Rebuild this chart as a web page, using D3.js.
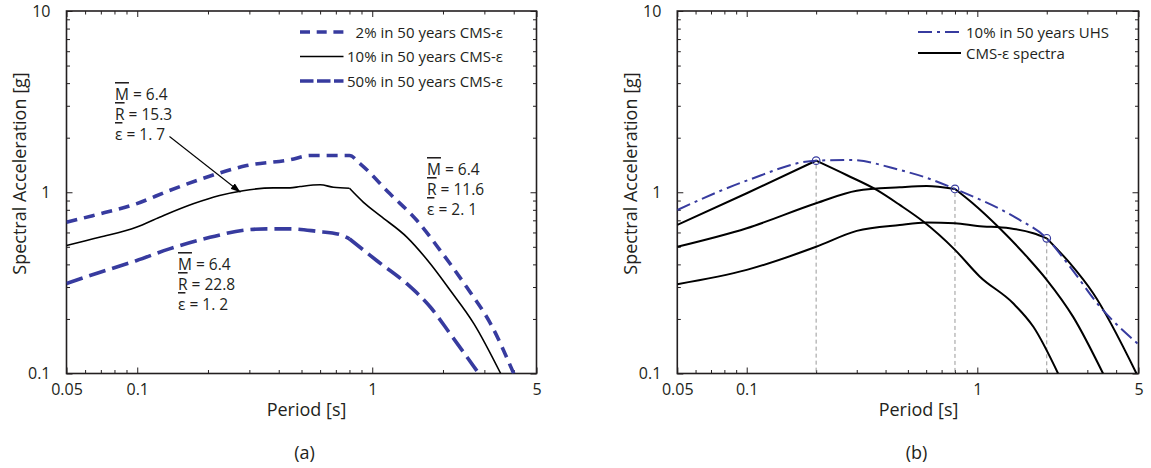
<!DOCTYPE html>
<html>
<head>
<meta charset="utf-8">
<script src="https://cdn.jsdelivr.net/npm/d3@7/dist/d3.min.js"></script>
<style>
  body { margin: 0; background: #fff; }
  svg text { font-family: "Open Sans", "Noto Sans", sans-serif; font-size: 15.5px; fill: #231f20; }
  svg .tick text { font-size: 16px; }
  svg text.title { font-size: 18px; }
  svg text.legend { font-size: 15px; }
  .ol { text-decoration: overline; }
</style>
</head>
<body>
<svg id="fig" width="1151" height="468"></svg>
<script>
// ---------- axis ticks ----------
const periodMajor = [0.05, 0.1, 1, 5];
const periodMajorLabels = ["0.05", "0.1", "1", "5"];
const periodMinor = [0.06, 0.07, 0.08, 0.09, 0.2, 0.3, 0.4, 0.5, 0.6, 0.7, 0.8, 0.9, 2, 3, 4];
const saMajor = [0.1, 1, 10];
const saMajorLabels = ["0.1", "1", "10"];
const saMinor = [0.2, 0.3, 0.4, 0.5, 0.6, 0.7, 0.8, 0.9, 2, 3, 4, 5, 6, 7, 8, 9];

// ---------- panel (a): CMS-ε spectra for three hazard levels (T* = 0.8 s) ----------
const aCondPeriod = 0.8;
const a2Period  = [0.05, 0.0646, 0.099, 0.137, 0.197, 0.292, 0.447, 0.544, 0.8, 0.889, 1.19, 1.55, 1.95, 2.53, 3.19, 4.0];
const a2SA      = [0.683, 0.743, 0.863, 1.022, 1.21, 1.404, 1.51, 1.595, 1.595, 1.435, 0.98, 0.698, 0.476, 0.298, 0.188, 0.1];
const a10Period = [0.05, 0.069, 0.099, 0.1245, 0.173, 0.224, 0.282, 0.379, 0.447, 0.493, 0.6, 0.684, 0.8, 0.918, 1.08, 1.407, 1.77, 2.15, 2.71, 3.52];
const a10SA     = [0.508, 0.564, 0.641, 0.728, 0.863, 0.959, 1.02, 1.057, 1.057, 1.075, 1.099, 1.066, 1.052, 0.88, 0.743, 0.564, 0.402, 0.287, 0.188, 0.1];
const a50Period = [0.05, 0.069, 0.099, 0.137, 0.204, 0.292, 0.355, 0.447, 0.58, 0.73, 0.8, 1.047, 1.407, 1.77, 2.15, 2.84];
const a50SA     = [0.314, 0.361, 0.419, 0.487, 0.564, 0.62, 0.628, 0.628, 0.609, 0.584, 0.553, 0.419, 0.312, 0.232, 0.165, 0.1];
const aLegend   = ["2% in 50 years CMS-ε", "10% in 50 years CMS-ε", "50% in 50 years CMS-ε"];

// ---------- panel (b): 10% in 50 years UHS and CMS-ε at three periods ----------
const uhsPeriod   = [0.05, 0.1, 0.2, 0.28, 0.461, 0.583, 0.8, 1.48, 2, 2.52, 3.4, 5];
const uhsSA       = [0.798, 1.159, 1.494, 1.507, 1.327, 1.219, 1.043, 0.719, 0.557, 0.389, 0.234, 0.145];
const cms02Period = [0.05, 0.1, 0.2, 0.271, 0.366, 0.461, 0.583, 0.8, 1.026, 1.43, 1.75, 2.24];
const cms02SA     = [0.66, 0.987, 1.494, 1.245, 1.03, 0.851, 0.689, 0.481, 0.342, 0.244, 0.181, 0.1];
const cms08Period = [0.05, 0.1, 0.2, 0.3, 0.461, 0.603, 0.8, 0.955, 1.25, 1.64, 2.0, 2.6, 3.51];
const cms08SA     = [0.5, 0.633, 0.87, 1.02, 1.066, 1.083, 1.043, 0.87, 0.633, 0.441, 0.329, 0.206, 0.1];
const cms2Period  = [0.05, 0.1, 0.2, 0.3, 0.461, 0.603, 0.8, 1.0, 1.38, 1.75, 2.0, 2.52, 3.18, 4.9];
const cms2SA      = [0.311, 0.373, 0.5, 0.612, 0.66, 0.68, 0.675, 0.652, 0.633, 0.594, 0.557, 0.406, 0.277, 0.1];
const condPeriods = [0.2, 0.8, 2];
const bLegend     = ["10% in 50 years UHS", "CMS-ε spectra"];

const BLUE = "#373b9f";
const svg = d3.select("#fig");
const defs = svg.append("defs");

defs.append("marker")
  .attr("id", "arrowhead")
  .attr("markerUnits", "userSpaceOnUse")
  .attr("markerWidth", 10).attr("markerHeight", 7)
  .attr("refX", 10).attr("refY", 3.5)
  .attr("orient", "auto")
  .append("path").attr("d", "M0,0 L10,3.5 L0,7 Z").attr("fill", "#000");

const zip = (xs, ys) => xs.map((t, i) => ({ t, v: ys[i] }));

// split a spectrum at its conditioning period so the kink stays sharp
function pieces(periods, values, tc) {
  const all = zip(periods, values);
  const k = periods.indexOf(tc);
  return k < 0 ? [all] : [all.slice(0, k + 1), all.slice(k)];
}

function panel(id, x0, x1, yTop, yBot, titleX, yTitleX, tag) {
  const x = d3.scaleLog().domain([0.05, 5]).range([x0, x1]);
  const y = d3.scaleLog().domain([0.1, 10]).range([yBot, yTop]);
  const g = svg.append("g").attr("id", id);

  defs.append("clipPath").attr("id", id + "-clip")
    .append("rect").attr("x", x0).attr("y", yTop).attr("width", x1 - x0).attr("height", yBot - yTop);

  const fmtP = d => periodMajorLabels[periodMajor.indexOf(d)];
  const fmtS = d => saMajorLabels[saMajor.indexOf(d)];

  const axes = [
    [d3.axisBottom(x).tickValues(periodMajor).tickSize(-6).tickPadding(10).tickFormat(fmtP), yBot],
    [d3.axisBottom(x).tickValues(periodMinor).tickSize(-3.5).tickFormat(""), yBot],
    [d3.axisTop(x).tickValues(periodMajor).tickSize(-6).tickFormat(""), yTop],
    [d3.axisTop(x).tickValues(periodMinor).tickSize(-3.5).tickFormat(""), yTop]
  ];
  axes.forEach(([ax, ty]) => {
    const a = g.append("g").attr("transform", `translate(0,${ty})`).call(ax);
    a.select(".domain").remove();
    a.selectAll("line").attr("stroke", "#231f20").attr("stroke-width", 1);
    a.attr("font-size", null).attr("font-family", null);
  });
  const vaxes = [
    [d3.axisLeft(y).tickValues(saMajor).tickSize(-6).tickPadding(16).tickFormat(fmtS), x0],
    [d3.axisLeft(y).tickValues(saMinor).tickSize(-3.5).tickFormat(""), x0],
    [d3.axisRight(y).tickValues(saMajor).tickSize(-6).tickFormat(""), x1],
    [d3.axisRight(y).tickValues(saMinor).tickSize(-3.5).tickFormat(""), x1]
  ];
  vaxes.forEach(([ax, tx]) => {
    const a = g.append("g").attr("transform", `translate(${tx},0)`).call(ax);
    a.select(".domain").remove();
    a.selectAll("line").attr("stroke", "#231f20").attr("stroke-width", 1);
    a.attr("font-size", null).attr("font-family", null);
  });

  g.append("rect")
    .attr("x", x0).attr("y", yTop).attr("width", x1 - x0).attr("height", yBot - yTop)
    .attr("fill", "none").attr("stroke", "#231f20").attr("stroke-width", 1.6);

  g.append("text").attr("class", "title").attr("x", titleX).attr("y", 416)
    .attr("text-anchor", "middle").text("Period [s]");
  g.append("text").attr("class", "title").attr("transform", `translate(${yTitleX},173.5) rotate(-90)`)
    .attr("text-anchor", "middle").attr("dominant-baseline", "central")
    .text("Spectral Acceleration [g]");
  g.append("text").attr("class", "title").attr("x", titleX - 2).attr("y", 459)
    .attr("text-anchor", "middle").text(tag);

  const plot = g.append("g").attr("clip-path", `url(#${id}-clip)`);
  const line = d3.line().x(d => x(d.t)).y(d => y(d.v)).curve(d3.curveMonotoneX);
  return { x, y, g, plot, line };
}

function spectrum(P, periods, values, tc, stroke, width, dash) {
  pieces(periods, values, tc).forEach(seg => {
    P.plot.append("path").datum(seg).attr("d", P.line)
      .attr("fill", "none").attr("stroke", stroke).attr("stroke-width", width)
      .attr("stroke-dasharray", dash);
  });
}

// ===== panel (a) =====
const A = panel("pa", 66.5, 536.5, 11, 373.5, 306.5, 19, "(a)");

A.plot.append("path").datum(zip(a2Period, a2SA)).attr("d", A.line)
  .attr("fill", "none").attr("stroke", BLUE).attr("stroke-width", 3.6).attr("stroke-dasharray", "11,7");
spectrum(A, a10Period, a10SA, aCondPeriod, "#000", 1.6, null);
spectrum(A, a50Period, a50SA, aCondPeriod, BLUE, 3.6, "17,7");

// legend (a)
const aStyles = [
  { stroke: BLUE, w: 3.6, dash: "10,6.7" },
  { stroke: "#000", w: 1.6, dash: null },
  { stroke: BLUE, w: 3.6, dash: "13.5,3.5" }
];
aLegend.forEach((lab, i) => {
  const yy = 32 + i * 24.5;
  A.g.append("line").attr("x1", 300).attr("x2", 343.5).attr("y1", yy).attr("y2", yy)
    .attr("stroke", aStyles[i].stroke).attr("stroke-width", aStyles[i].w)
    .attr("stroke-dasharray", aStyles[i].dash);
  A.g.append("text").attr("class", "legend").attr("x", 503).attr("y", yy + 5.5)
    .attr("text-anchor", "end").text(lab);
});

// mean causal parameters
function annotation(g, x, yBase, sym, vals) {
  sym.forEach((s, i) => {
    const t = g.append("text").attr("x", x).attr("y", yBase + i * 20);
    t.append("tspan").attr("class", "ol").text(s);
    t.append("tspan").text(vals[i]);
  });
}
annotation(A.g, 115, 100, ["M", "R", "ε"], [" = 6.4", " = 15.3", " = 1. 7"]);
annotation(A.g, 178, 270, ["M", "R", "ε"], [" = 6.4", " = 22.8", " = 1. 2"]);
annotation(A.g, 427, 175, ["M", "R", "ε"], [" = 6.4", " =  11.6", " = 2. 1"]);

A.g.append("line")
  .attr("x1", 169.5).attr("y1", 136.5)
  .attr("x2", A.x(0.275)).attr("y2", A.y(1.0))
  .attr("stroke", "#000").attr("stroke-width", 1.1)
  .attr("marker-end", "url(#arrowhead)");

// ===== panel (b) =====
const B = panel("pb", 677.3, 1138.5, 11, 373.5, 918.5, 630, "(b)");

// conditioning periods
condPeriods.forEach(tc => {
  const v = uhsSA[uhsPeriod.indexOf(tc)];
  B.plot.append("line")
    .attr("x1", B.x(tc)).attr("x2", B.x(tc)).attr("y1", B.y(v) + 4).attr("y2", 373.5)
    .attr("stroke", "#9a9a9a").attr("stroke-width", 1).attr("stroke-dasharray", "4,3");
});

spectrum(B, cms02Period, cms02SA, 0.2, "#000", 2, null);
spectrum(B, cms08Period, cms08SA, 0.8, "#000", 2, null);
spectrum(B, cms2Period, cms2SA, 2, "#000", 2, null);
spectrum(B, uhsPeriod, uhsSA, null, BLUE, 2, "14,5,3,5");

condPeriods.forEach(tc => {
  const v = uhsSA[uhsPeriod.indexOf(tc)];
  B.plot.append("circle").attr("cx", B.x(tc)).attr("cy", B.y(v)).attr("r", 3.8)
    .attr("fill", "none").attr("stroke", BLUE).attr("stroke-width", 1.2);
});

// legend (b)
const bStyles = [
  { stroke: BLUE, dash: "14,5,3,5" },
  { stroke: "#000", dash: null }
];
bLegend.forEach((lab, i) => {
  const yy = 32 + i * 21;
  B.g.append("line").attr("x1", 918).attr("x2", 961).attr("y1", yy).attr("y2", yy)
    .attr("stroke", bStyles[i].stroke).attr("stroke-width", 2)
    .attr("stroke-dasharray", bStyles[i].dash);
  B.g.append("text").attr("class", "legend").attr("x", 966).attr("y", yy + 5.5).text(lab);
});
</script>
</body>
</html>
